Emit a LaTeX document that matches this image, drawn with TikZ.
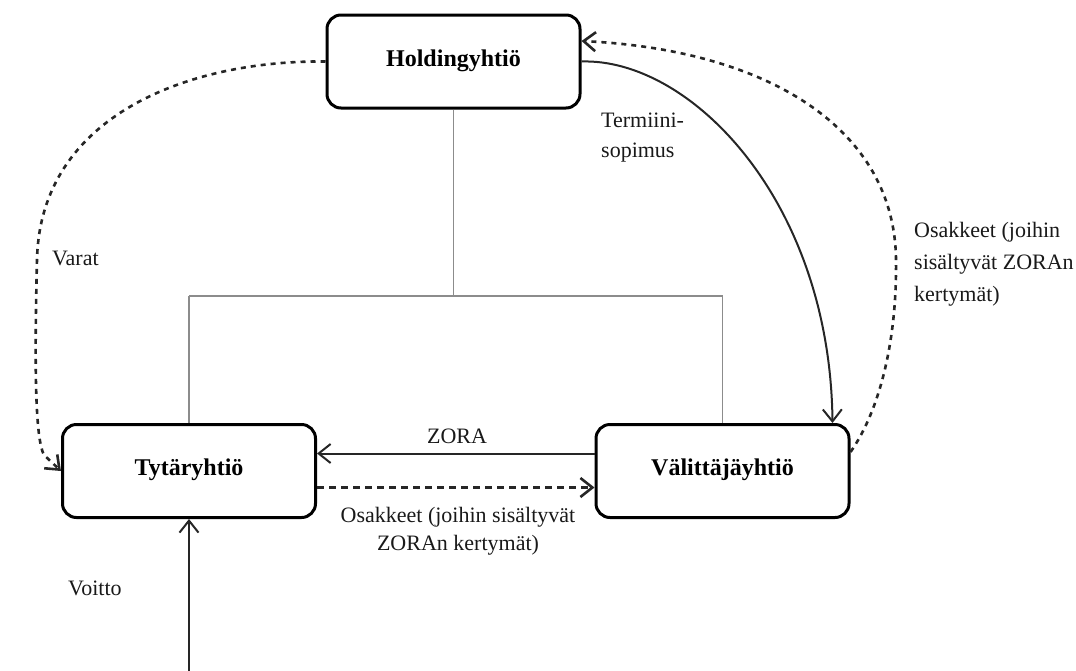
\documentclass[tikz,border=0pt]{standalone}
\usepackage{fontspec}
\setmainfont{Liberation Serif}
\usetikzlibrary{arrows.meta}
\begin{document}
\begin{tikzpicture}[x=1pt,y=-1pt,
  company/.style={draw=black, line width=3pt, rounded corners=14pt, minimum width=253pt, minimum height=93pt, inner sep=0pt, font=\fontsize{24}{26}\selectfont\bfseries},
  tree/.style={draw=black!45, line width=1.8pt},
  flow/.style={line width=2pt, draw=black!85, -{Straight Barb[length=12pt,width=19pt]}},
  dflow/.style={flow, line width=2.6pt, dash pattern=on 7pt off 5pt},
  cflow/.style={flow, line width=2.6pt, dash pattern=on 5pt off 5pt},
  lbl/.style={font=\fontsize{22}{28}\selectfont, inner sep=0pt, text=black!90}
]
\useasboundingbox (0,0) rectangle (1076,670);

\node[company] (hold) at (453.5,61.5) {\raisebox{7pt}{Holdingyhtiö}};
\node[company] (tyt) at (189,471) {\raisebox{7pt}{Tytäryhtiö}};
\node[company] (val) at (722.5,471) {\raisebox{7pt}{Välittäjäyhtiö}};

% ownership tree
\coordinate (tj) at (453.5,296);
\coordinate (tl) at (189,296);
\coordinate (tr) at (722.5,296);
\draw[tree] (hold.south) -- (tj);
\draw[tree] (tl) -- (tr);
\draw[tree] (tl) -- (tyt.north);
\draw[tree] (tr) -- (val.north);

% ZORA and shares between the two lower companies
\draw[flow] ([yshift=17.5pt]val.west) -- ([yshift=17.5pt]tyt.east);
\draw[dflow] ([yshift=-16.5pt]tyt.east) -- ([yshift=-16.5pt]val.west);
\node[lbl] (zora) at (457,436) {ZORA};
\node[lbl, align=center, font=\fontsize{22}{28}\selectfont] (osak1) at (458,531) {Osakkeet (joihin sisältyvät\\ZORAn kertymät)};

% profit
\coordinate (vstart) at (189,672);
\draw[flow] (vstart) -- (tyt.south);
\node[lbl, anchor=west] (voitto) at (68,588) {Voitto};

% assets
\coordinate (vbend) at (44,455);
\draw[cflow] (hold.west) .. controls (190,60) and (40,115) .. (37,260)
  .. controls (34,380) and (36,440) .. (vbend) -- (tyt.west);
\node[lbl, anchor=west] (varat) at (52,258) {Varat};

% forward contract
\draw[flow] (hold.east) .. controls (690,58) and (830,200) .. ([xshift=110pt]val.north);
\node[lbl, anchor=west, align=left, font=\fontsize{22}{30}\selectfont] (term) at (601,138) {Termiini-\\sopimus};

% shares back to holding
\draw[cflow] ([yshift=19pt]val.east) .. controls (880,410) and (897,340) .. (896,260)
  .. controls (895,130) and (770,50) .. ([yshift=20.5pt]hold.east);
\node[lbl, anchor=west, align=left, font=\fontsize{22}{32}\selectfont] (osak2) at (914,264) {Osakkeet (joihin\\sisältyvät ZORAn\\kertymät)};
\end{tikzpicture}
\end{document}
